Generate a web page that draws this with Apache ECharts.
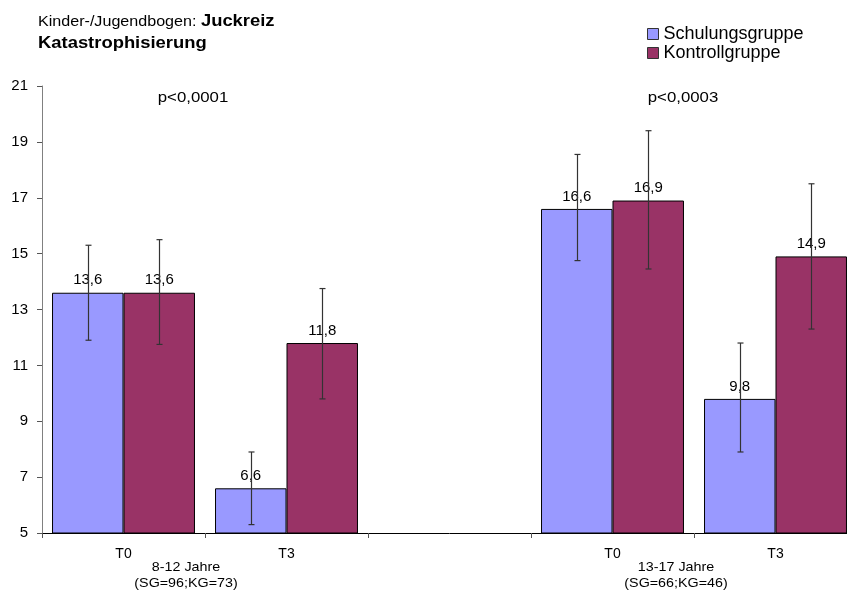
<!DOCTYPE html>
<html>
<head>
<meta charset="utf-8">
<script src="https://cdn.jsdelivr.net/npm/echarts@6/dist/echarts.min.js"></script>
<style>html,body{margin:0;padding:0;background:#fff;overflow:hidden;}#c{width:857px;height:591px;}</style>
</head>
<body>
<div id="c"></div>
<script>
var categories = ['T0', 'T3', '', 'T0', 'T3'];
var schulung = [13.6, 6.6, null, 16.6, 9.8];
var kontroll = [13.6, 11.8, null, 16.9, 14.9];
var schulungErrLow = [11.9, 5.3, null, 14.75, 7.9];
var schulungErrHigh = [15.3, 7.9, null, 18.55, 11.8];
var kontrollErrLow = [11.75, 9.8, null, 14.45, 12.3];
var kontrollErrHigh = [15.5, 13.75, null, 19.4, 17.5];
var yTicks = [5, 7, 9, 11, 13, 15, 17, 19, 21];
var groupLabels = ['8-12 Jahre\n(SG=96;KG=73)', '13-17 Jahre\n(SG=66;KG=46)'];
var pValues = ['p<0,0001', 'p<0,0003'];

var CAT_GAP = 0.123;
var FONT = 'Liberation Sans, Arial, sans-serif';

function errSeries(lows, highs, side) {
  var data = [];
  for (var i = 0; i < lows.length; i++) {
    if (lows[i] != null) data.push([i, lows[i], highs[i]]);
  }
  return {
    type: 'custom',
    z: 10,
    silent: true,
    clip: false,
    data: data,
    renderItem: function (params, api) {
      var idx = api.value(0);
      var band = api.size([1, 0])[0];
      var bw = band * (1 - CAT_GAP) / 2;
      var lo = api.coord([idx, api.value(1)]);
      var hi = api.coord([idx, api.value(2)]);
      var x = Math.round(lo[0] + side * bw / 2) + 0.5;
      var cap = 3;
      var st = { stroke: '#333', lineWidth: 1.2 };
      return {
        type: 'group',
        children: [
          { type: 'line', shape: { x1: x, y1: hi[1], x2: x, y2: lo[1] }, style: st },
          { type: 'line', shape: { x1: x - cap, y1: hi[1], x2: x + cap, y2: hi[1] }, style: st },
          { type: 'line', shape: { x1: x - cap, y1: lo[1], x2: x + cap, y2: lo[1] }, style: st }
        ]
      };
    }
  };
}

function fmt(p) { return String(p.value).replace('.', ','); }

var chart = echarts.init(document.getElementById('c'), null, { renderer: 'canvas' });
chart.setOption({
  animation: false,
  backgroundColor: '#fff',
  textStyle: { fontFamily: FONT },
  grid: { left: 42, top: 86, bottom: 58, right: 0, containLabel: false },
  legend: {
    orient: 'vertical',
    left: 647,
    top: 25,
    padding: 0,
    itemWidth: 11,
    itemHeight: 11,
    itemGap: 1,
    icon: 'rect',
    itemStyle: { borderColor: '#333', borderWidth: 1 },
    textStyle: { fontSize: 18, lineHeight: 18, color: '#000', fontFamily: FONT },
    data: ['Schulungsgruppe', 'Kontrollgruppe']
  },
  xAxis: {
    type: 'category',
    data: categories,
    axisLine: { lineStyle: { color: '#000', width: 1 } },
    axisTick: { show: true, length: 5, lineStyle: { color: '#555' } },
    axisLabel: { color: '#000', fontSize: 14, margin: 14, fontFamily: FONT },
    splitLine: { show: false }
  },
  yAxis: {
    type: 'value',
    min: yTicks[0],
    max: yTicks[yTicks.length - 1],
    interval: 2,
    axisLine: { show: true, lineStyle: { color: '#808080', width: 1 } },
    axisTick: { show: true, length: 5, lineStyle: { color: '#555' } },
    axisLabel: { color: '#000', fontSize: 15, margin: 14, fontFamily: FONT },
    splitLine: { show: false }
  },
  series: [
    {
      name: 'Schulungsgruppe',
      type: 'bar',
      data: schulung,
      barGap: '0%',
      barCategoryGap: (CAT_GAP * 100) + '%',
      itemStyle: { color: '#9999FF', borderColor: '#000', borderWidth: 1 },
      label: { show: true, position: 'top', distance: 5, color: '#000', fontSize: 15, fontFamily: FONT, formatter: fmt }
    },
    {
      name: 'Kontrollgruppe',
      type: 'bar',
      data: kontroll,
      itemStyle: { color: '#993366', borderColor: '#000', borderWidth: 1 },
      label: { show: true, position: 'top', distance: 5, color: '#000', fontSize: 15, fontFamily: FONT, formatter: fmt }
    },
    errSeries(schulungErrLow, schulungErrHigh, -1),
    errSeries(kontrollErrLow, kontrollErrHigh, 1)
  ],
  graphic: [
    {
      type: 'text', x: 38, y: 11, scaleX: 1.15,
      style: {
        text: '{n|Kinder-/Jugendbogen: }{b|Juckreiz}\n{b|Katastrophisierung}',
        rich: {
          n: { fontSize: 14, fontFamily: FONT, fill: '#000', lineHeight: 22 },
          b: { fontSize: 16, fontFamily: FONT, fontWeight: 'bold', fill: '#000', lineHeight: 22 }
        }
      }
    },
    { type: 'text', x: 193, y: 98, scaleX: 1.2, style: { text: pValues[0], fontSize: 14, fontFamily: FONT, fill: '#000', align: 'center', verticalAlign: 'middle' } },
    { type: 'text', x: 683, y: 98, scaleX: 1.2, style: { text: pValues[1], fontSize: 14, fontFamily: FONT, fill: '#000', align: 'center', verticalAlign: 'middle' } },
    { type: 'text', x: 186, y: 575, scaleX: 1.1, style: { text: groupLabels[0], fontSize: 13, lineHeight: 16, fontFamily: FONT, fill: '#000', align: 'center', verticalAlign: 'middle' } },
    { type: 'text', x: 676, y: 575, scaleX: 1.1, style: { text: groupLabels[1], fontSize: 13, lineHeight: 16, fontFamily: FONT, fill: '#000', align: 'center', verticalAlign: 'middle' } }
  ]
});
</script>
</body>
</html>
